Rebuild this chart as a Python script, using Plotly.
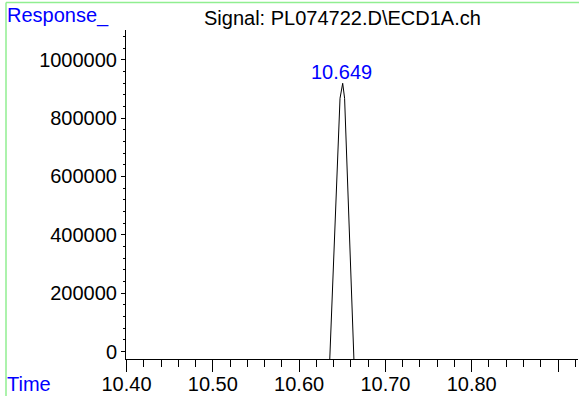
import plotly.graph_objects as go

# Data
time_vals = [10.6355, 10.6474, 10.6505, 10.6527, 10.6635]
response_vals = [-27000, 868000, 919500, 868000, -27000]
peak_time_label = "10.649"
peak_time = 10.6495
peak_resp = 919500
x_tick_vals = [10.40, 10.50, 10.60, 10.70, 10.80, 10.90]
x_tick_text = ["10.40", "10.50", "10.60", "10.70", "10.80", ""]
y_tick_vals = [0, 200000, 400000, 600000, 800000, 1000000]
title_text = "Signal: PL074722.D\\ECD1A.ch"

W, H = 579, 396
L, R, T, B = 126, 1, 30, 37
PW, PH = W - L - R, H - T - B

def px(x):
    return (x - L) / PW

def py(y):
    return (H - B - y) / PH

FONT = "Liberation Sans, Arial, sans-serif"
GREEN = "#90EE90"

fig = go.Figure()
fig.add_trace(go.Scatter(x=time_vals, y=response_vals, mode="lines",
                         line=dict(color="black", width=1), hoverinfo="skip",
                         showlegend=False))

fig.update_layout(
    width=W, height=H,
    margin=dict(l=L, r=R, t=T, b=B, pad=0, autoexpand=False),
    paper_bgcolor="white", plot_bgcolor="white",
    font=dict(family=FONT, size=20, color="black"),
    showlegend=False,
)
fig.update_xaxes(
    automargin=False,
    range=[10.3994, 10.3994 + PW / 863.0],
    tickmode="array", tickvals=x_tick_vals, ticktext=x_tick_text,
    ticks="outside", ticklen=12, tickwidth=1, tickcolor="black",
    ticklabelstandoff=-5,
    minor=dict(dtick=0.02, tick0=10.40, ticks="outside", ticklen=7,
               tickwidth=1, tickcolor="black", showgrid=False),
    showline=True, linecolor="black", linewidth=1,
    showgrid=False, zeroline=False,
    tickfont=dict(family=FONT, size=20, color="black"),
)
fig.update_yaxes(
    automargin=False,
    range=[-25700, 1102200],
    tickmode="array", tickvals=y_tick_vals, tickformat="d",
    ticks="outside", ticklen=4, tickwidth=1, tickcolor="black",
    minor=dict(dtick=40000, tick0=0, ticks="outside", ticklen=2,
               tickwidth=1, tickcolor="black", showgrid=False),
    showline=True, linecolor="black", linewidth=1,
    showgrid=False, zeroline=False,
    tickfont=dict(family=FONT, size=20, color="black"),
)

# peak label
fig.add_annotation(x=peak_time, y=peak_resp, text=peak_time_label,
                   showarrow=False, yanchor="bottom", xanchor="center",
                   yshift=-2, font=dict(family=FONT, size=20, color="#0000FF"))

# corner labels and title
fig.add_annotation(x=px(5), y=py(15.5), xref="paper", yref="paper",
                   text="Response_", showarrow=False, xanchor="left",
                   yanchor="middle", font=dict(family=FONT, size=20, color="#0000FF"))
fig.add_annotation(x=px(5), y=py(383.5), xref="paper", yref="paper",
                   text="Time", showarrow=False, xanchor="left",
                   yanchor="middle", font=dict(family=FONT, size=20, color="#0000FF"))
fig.add_annotation(x=px(202), y=py(17.5), xref="paper", yref="paper",
                   text=title_text, showarrow=False, xanchor="left",
                   yanchor="middle", font=dict(family=FONT, size=20, color="black"))

# green frame lines
fig.add_shape(type="line", xref="paper", yref="paper",
              x0=px(6), x1=px(579), y0=py(2.5), y1=py(2.5),
              line=dict(color=GREEN, width=1.5))
fig.add_shape(type="line", xref="paper", yref="paper",
              x0=px(6), x1=px(6), y0=py(2.5), y1=py(396),
              line=dict(color=GREEN, width=1.5))

fig.write_html(
    "out.html",
    config={"displayModeBar": False},
    post_script="document.body.style.margin='0';document.body.style.padding='0';document.body.style.overflow='hidden';",
)
